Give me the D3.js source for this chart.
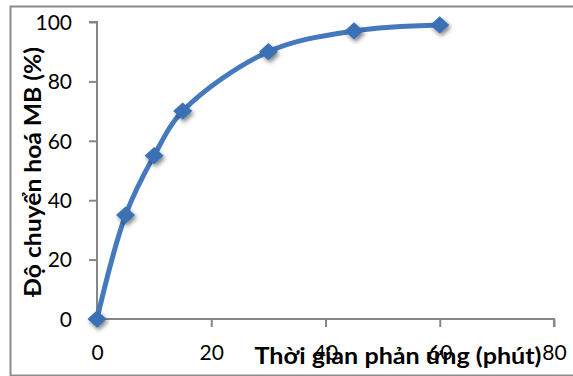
<!DOCTYPE html>
<html>
<head>
<meta charset="utf-8">
<script src="https://cdn.jsdelivr.net/npm/d3@7"></script>
<style>
  body { margin: 0; background: #fff; }
  text { font-family: Lato, "Open Sans", sans-serif; }
</style>
</head>
<body>
<div id="container"></div>
<script>
var width = 573,
    height = 376;

// data
var times = [0, 5, 10, 15, 30, 45, 60];
var conversion = [0, 35, 55, 70, 90, 97, 99];
var xTicks = [0, 20, 40, 60, 80];
var yTicks = [0, 20, 40, 60, 80, 100];
var xTitle = "Thời gian phản ứng (phút)";
var yTitle = "Độ chuyển hoá MB (%)";

var margin = {left: 97, top: 22, right: 19, bottom: 57};

var svg = d3.select('#container').append('svg')
    .attr("width", width)
    .attr("height", height);

var defs = svg.append("defs");
var f = defs.append("filter").attr("id", "shadow")
    .attr("x", "-60%").attr("y", "-60%").attr("width", "220%").attr("height", "220%");
f.append("feDropShadow")
    .attr("dx", 1.5).attr("dy", 2.5).attr("stdDeviation", 2)
    .attr("flood-color", "#000").attr("flood-opacity", 0.5);

// outer frame (right side runs off the picture)
svg.append("path")
    .attr("d", "M" + (width + 2) + ",6.5 H10.5 V375.5 H" + (width + 2))
    .attr("fill", "none")
    .attr("stroke", "#8a8a8a")
    .attr("stroke-width", 2);

var x = d3.scaleLinear()
    .domain([0, 80])
    .range([margin.left, width - margin.right]);

var y = d3.scaleLinear()
    .domain([0, 100])
    .range([height - margin.bottom, margin.top]);

var gx = svg.append("g")
    .attr("transform", "translate(0," + y(0) + ")")
    .call(d3.axisBottom(x).tickValues(xTicks).tickSize(8).tickPadding(18));

var gy = svg.append("g")
    .attr("transform", "translate(" + x(0) + ",0)")
    .call(d3.axisLeft(y).tickValues(yTicks).tickSize(8).tickPadding(17));

[gx, gy].forEach(function(g) {
  g.select(".domain").attr("stroke", "#868686").attr("stroke-width", 2);
  g.selectAll(".tick line").attr("stroke", "#868686").attr("stroke-width", 2);
  g.selectAll(".tick text")
    .attr("fill", "#000")
    .style("font-size", "21px")
    .style("font-family", "Lato, 'Open Sans', sans-serif");
});
gy.selectAll(".tick text").attr("dy", "0.35em");
gx.select(".domain").attr("d", "M" + x(0) + ",8V0H" + x(80) + "V8");
gy.select(".domain").attr("d", "M-8," + y(0) + "H0V" + y(100) + "H-8");

var pts = times.map(function(t, i) { return [t, conversion[i]]; });

var line = d3.line()
    .x(function(d) { return x(d[0]); })
    .y(function(d) { return y(d[1]); })
    .curve(d3.curveCatmullRom.alpha(0.5));

svg.append("path")
    .datum(pts)
    .attr("d", line)
    .attr("fill", "none")
    .attr("stroke", "#4579bd")
    .attr("stroke-width", 5)
    .attr("stroke-linecap", "round");

svg.selectAll(".marker")
    .data(pts)
    .enter()
    .append("path")
    .attr("class", "marker")
    .attr("d", d3.symbol().type(d3.symbolDiamond2).size(190))
    .attr("transform", function(d) { return "translate(" + x(d[0]) + "," + y(d[1]) + ") scale(1.1,1)"; })
    .attr("fill", "#3a70b5")
    .attr("filter", "url(#shadow)");

svg.append("text")
    .attr("transform", "translate(41,172) rotate(-90)")
    .attr("text-anchor", "middle")
    .attr("textLength", 250)
    .attr("lengthAdjust", "spacingAndGlyphs")
    .style("font-size", "22px")
    .style("font-weight", "bold")
    .text(yTitle);

svg.append("text")
    .attr("x", 398)
    .attr("y", 364)
    .attr("text-anchor", "middle")
    .attr("textLength", 287)
    .attr("lengthAdjust", "spacingAndGlyphs")
    .style("font-size", "22px")
    .style("font-weight", "bold")
    .text(xTitle);
</script>
</body>
</html>
